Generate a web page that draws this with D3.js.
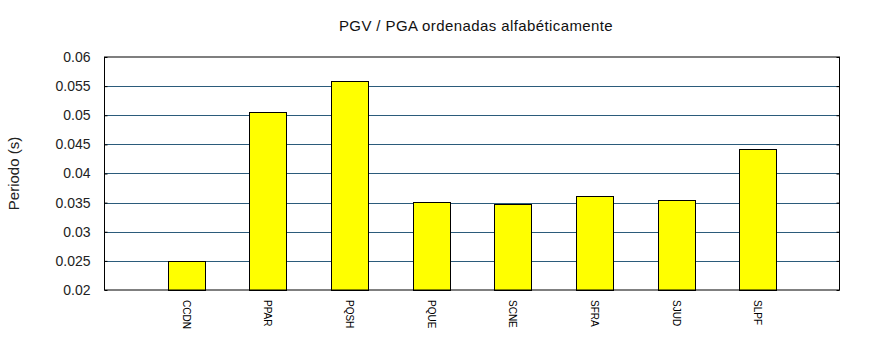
<!DOCTYPE html>
<html>
<head>
<meta charset="utf-8">
<script src="https://cdn.jsdelivr.net/npm/d3@7"></script>
<style>
  html, body { margin: 0; padding: 0; background: #fff; }
  svg { display: block; font-family: "Liberation Sans", Arial, sans-serif; }
</style>
</head>
<body>
<svg id="chart" width="870" height="350"></svg>
<script>
// Stations and their periods
const stations = ["CCDN", "PPAR", "PQSH", "PQUE", "SCNE", "SFRA", "SJUD", "SLPF"];
const periods  = [0.0250, 0.0505, 0.0558, 0.0351, 0.0348, 0.0362, 0.0355, 0.0442];
const yTicks   = [0.02, 0.025, 0.03, 0.035, 0.04, 0.045, 0.05, 0.055, 0.06];
const titleText = "PGV / PGA ordenadas alfabéticamente";
const yLabelText = "Periodo (s)";

const svg = d3.select("#chart");
const plot = { left: 104.5, right: 839.5, top: 57, bottom: 290 };

// Bars sit on integer slots 1..n, with one empty slot at each end
const x = d3.scaleLinear().domain([0, stations.length + 1]).range([plot.left, plot.right]);
const y = d3.scaleLinear().domain([0.02, 0.06]).range([plot.bottom, plot.top]);
const slot = x(1) - x(0);
const barW = slot * 0.45;

// Horizontal gridlines
svg.append("g").selectAll("line")
  .data(yTicks.slice(1, -1))
  .join("line")
  .attr("x1", plot.left).attr("x2", plot.right)
  .attr("y1", d => Math.round(y(d)) + 0.5).attr("y2", d => Math.round(y(d)) + 0.5)
  .attr("stroke", "#2b5b7b").attr("stroke-width", 1);

// Bars
svg.append("g").selectAll("rect")
  .data(periods)
  .join("rect")
  .attr("x", (d, i) => Math.round(x(i + 1) - barW / 2) + 0.5)
  .attr("width", Math.round(barW))
  .attr("y", d => Math.round(y(d)) + 0.5)
  .attr("height", d => Math.round(plot.bottom) - Math.round(y(d)))
  .attr("fill", "#ffff00").attr("stroke", "#000").attr("stroke-width", 1);

// Left axis: labels with short inward ticks
const yAxisL = d3.axisLeft(y).tickValues(yTicks).tickSize(-3).tickPadding(14)
  .tickFormat(d => String(+d.toFixed(3)));
const gL = svg.append("g").attr("transform", `translate(${plot.left},0)`).call(yAxisL);
gL.select(".domain").remove();
gL.selectAll("line").attr("stroke", "#000");
gL.selectAll("text").attr("font-size", 14).attr("fill", "#222")
  .attr("font-family", "'Liberation Sans', Arial, sans-serif");

// Right axis: inward ticks only
const yAxisR = d3.axisRight(y).tickValues(yTicks).tickSize(-3).tickFormat("");
const gR = svg.append("g").attr("transform", `translate(${plot.right},0)`).call(yAxisR);
gR.select(".domain").remove();
gR.selectAll("line").attr("stroke", "#000");

// Plot frame
svg.append("rect")
  .attr("x", plot.left).attr("y", plot.top)
  .attr("width", plot.right - plot.left).attr("height", plot.bottom - plot.top)
  .attr("fill", "none").attr("stroke", "#000").attr("stroke-width", 1);

// Station labels, rotated to read downward
svg.append("g").selectAll("text")
  .data(stations)
  .join("text")
  .attr("transform", (d, i) => `translate(${x(i + 1)},${plot.bottom + 10}) rotate(90)`)
  .attr("dy", "0.35em")
  .attr("font-size", 10)
  .attr("fill", "#000")
  .text(d => d);

// Title
svg.append("text")
  .attr("x", 476).attr("y", 31)
  .attr("text-anchor", "middle")
  .attr("font-size", 15).attr("letter-spacing", 0.4).attr("fill", "#111")
  .text(titleText);

// Y axis label
svg.append("text")
  .attr("transform", `translate(19,${(plot.top + plot.bottom) / 2}) rotate(-90)`)
  .attr("text-anchor", "middle")
  .attr("font-size", 15).attr("fill", "#222")
  .text(yLabelText);
</script>
</body>
</html>
